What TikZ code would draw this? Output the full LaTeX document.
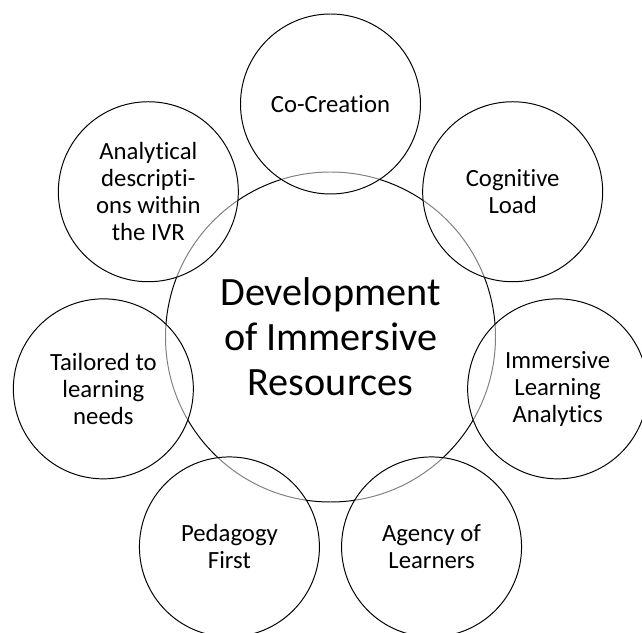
\documentclass[tikz,border=0pt]{standalone}
\usepackage{fontspec}
\setmainfont{Carlito}[Ligatures=NoCommon]
\usepackage{tikz}
\usetikzlibrary{positioning}
\usetikzlibrary{shapes,calc}

\begin{document}
\begin{tikzpicture}[auto,
    core/.style={draw, circle, line width=0.7pt, minimum size=8.25cm, inner sep=0pt,
      align=center, font=\fontsize{28.6}{32}\selectfont},
    theme/.style={draw, circle, line width=0.7pt, minimum size=4.5cm, inner sep=0pt,
      fill=white, fill opacity=0.5, text opacity=1,
      align=center, font=\fontsize{17.6}{19.3}\selectfont}]
    \useasboundingbox (-8.2625,-7.4) rectangle (7.7875,8.425);
    \def\ring{5.825cm}

    % Nodes
    \node [core] (core) at (0,0) {Development\\of Immersive\\Resources};

    \node [theme] (cocreation) at ($(core)+(90:\ring)$) {Co-Creation};
    \node [theme] (cognitive) at ($(core)+(38.57:\ring)$) {Cognitive\\Load};
    \node [theme] (analytics) at ($(core)+(-12.86:\ring)$) {Immersive\\Learning\\Analytics};
    \node [theme] (agency) at ($(core)+(-64.29:\ring)$) {Agency of\\Learners};
    \node [theme] (pedagogy) at ($(core)+(-115.71:\ring)$) {Pedagogy\\First};
    \node [theme] (tailored) at ($(core)+(-167.14:\ring)$) {Tailored to\\learning\\needs};
    \node [theme] (descriptions) at ($(core)+(141.43:\ring)$) {Analytical\\descripti-\\ons within\\the IVR};
  \end{tikzpicture}
\end{document}
